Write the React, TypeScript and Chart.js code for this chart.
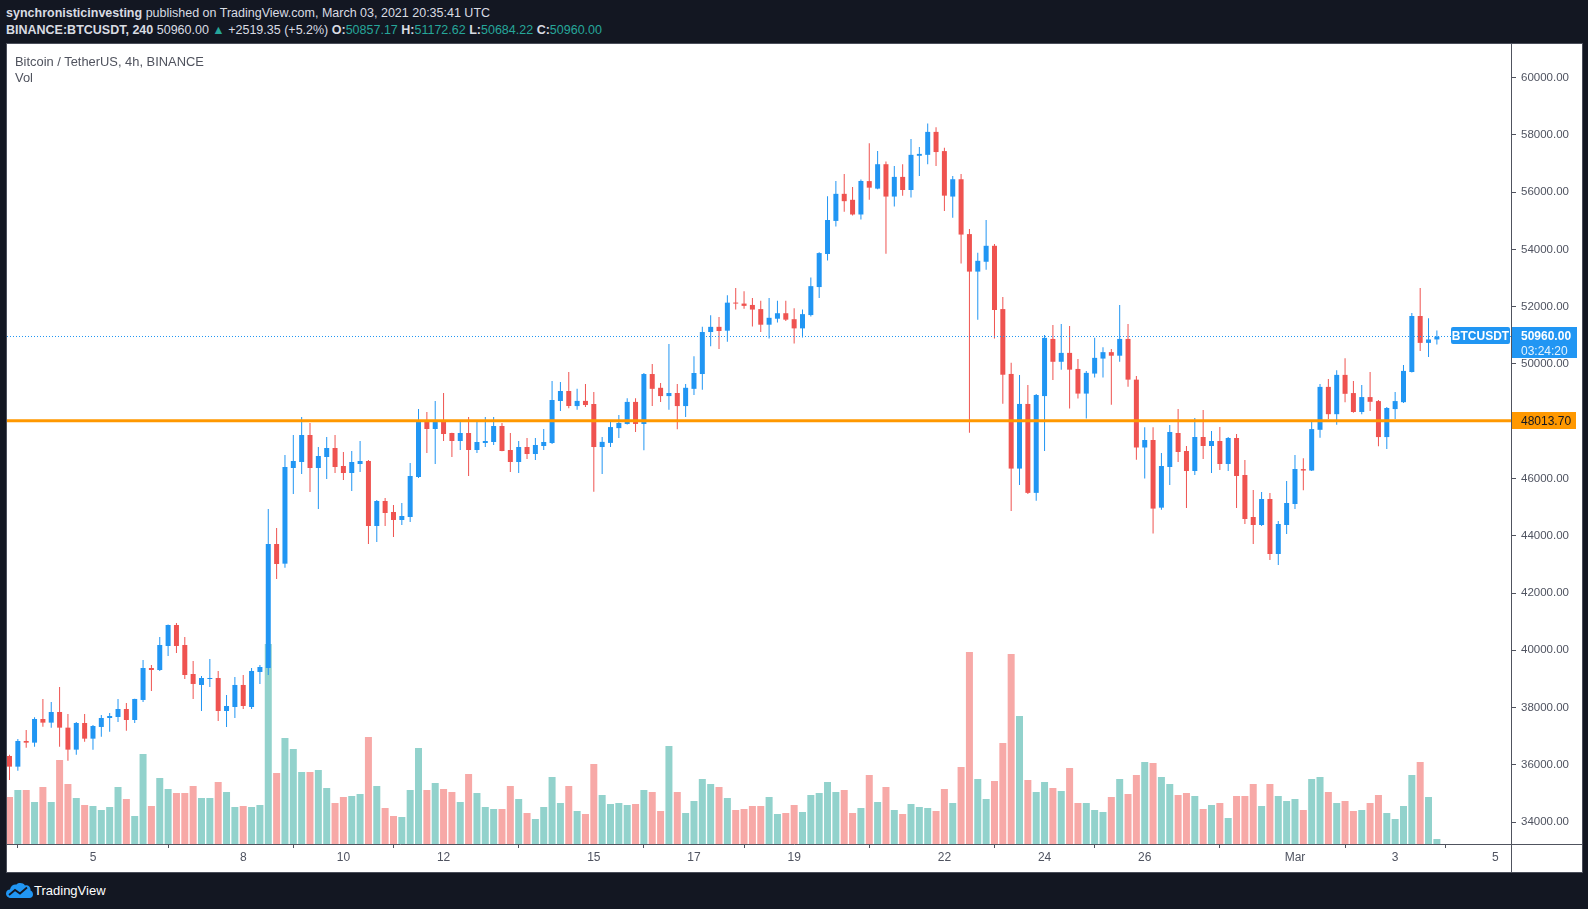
import React, { useEffect, useRef } from "react";
import { Chart, registerables } from "chart.js";

Chart.register(...registerables);

// ---- Data: BTCUSDT 4h candles, Feb 3 08:00 UTC -> Mar 3 20:00 UTC ----
const opens = [
  36308, 35935, 36832, 36773, 37600, 37472, 37844, 37297, 36529, 37460,
  36913, 37321, 37635, 37670, 37949, 37565, 38264, 39381, 39311, 40150,
  40883, 40185, 39172, 38788, 38997, 39032, 37879, 38019, 38788, 38019,
  39242, 39381, 43713, 43025, 46367, 46576, 47519, 46367, 46751, 47065,
  46437, 46192, 46506, 46611, 44341, 45214, 44830, 44551, 44655, 46052,
  47974, 47729, 48008, 47589, 47310, 47589, 46995, 47240, 47275, 47834,
  46995, 46576, 47100, 46856, 47135, 47240, 48707, 49056, 48530, 48711,
  48602, 47099, 47243, 47760, 47905, 48675, 47905, 49649, 49168, 48879,
  48987, 48530, 49132, 49649, 51116, 51297, 51163, 52142, 52110, 52062,
  51917, 51372, 51581, 51773, 51564, 51244, 51709, 52687, 53842, 54997,
  55943, 55735, 55222, 56388, 56126, 56978, 55848, 56535, 56077, 57272,
  57305, 58107, 57436, 55848, 56453, 54537, 53227, 53571, 54128, 51918,
  49652, 46346, 48604, 45498, 48879, 50875, 50077, 50388, 49827, 48966,
  49665, 50189, 50413, 50289, 50875, 49453, 47083, 47344, 44981, 46402,
  47589, 46961, 46262, 47450, 47135, 47310, 46507, 47415, 46123, 44656,
  44376, 45284, 43363, 44376, 45109, 46329, 46278, 47701, 49200, 48247,
  49619, 48984, 48323, 48844, 48704, 47447, 48425, 48666, 49720, 51676,
  50737, 50857.17,
];
const highs = [
  36350, 36901, 37216, 37658, 38299, 38194, 38718, 37775, 37495, 37775,
  37390, 37740, 37810, 38299, 38159, 38310, 39661, 39486, 40464, 40900,
  40953, 40464, 39626, 39102, 39696, 39277, 38438, 39067, 39137, 39381,
  39486, 44935, 44271, 46821, 47519, 48148, 47939, 47100, 47450, 47519,
  46926, 46961, 47310, 46650, 45249, 45319, 45075, 45144, 46541, 48428,
  48323, 48707, 48986, 47600, 48008, 48148, 47973, 48148, 48148, 47938,
  47589, 47310, 47415, 47415, 47729, 49405, 49371, 49720, 49132, 49300,
  49023, 47448, 48001, 48217, 48807, 48807, 49685, 49998, 49336, 50695,
  49300, 49300, 50274, 51297, 51706, 51645, 52399, 52655, 52543, 52302,
  52206, 52302, 52206, 52206, 51949, 51901, 53024, 53906, 55863, 56393,
  56633, 56184, 56441, 57714, 57436, 57076, 56912, 56978, 57862, 57583,
  58402, 58271, 57551, 56568, 56634, 54718, 53882, 55029, 54193, 52343,
  50039, 49615, 49266, 48953, 51012, 51361, 51398, 51324, 50176, 49752,
  50912, 50588, 50526, 52060, 51398, 49578, 47794, 47794, 46891, 47869,
  48428, 47135, 48113, 48393, 47659, 47799, 47450, 47555, 46646, 45599,
  45529, 45494, 44516, 45913, 46821, 46710, 47980, 49301, 49479, 49784,
  50203, 49403, 49263, 49720, 48742, 48501, 49022, 49962, 51778, 52655,
  51600, 51172.62,
];
const lows = [
  35469, 35795, 36599, 36634, 37332, 37297, 36634, 36145, 36354, 36808,
  36529, 36983, 37158, 37495, 37192, 37460, 38194, 38578, 39277, 39801,
  39905, 38997, 38299, 37879, 38718, 37530, 37320, 37635, 37949, 37949,
  38823, 39137, 42490, 42886, 45459, 46157, 45529, 44935, 45983, 46192,
  45948, 45563, 46227, 43712, 43782, 44341, 43957, 44376, 44481, 46017,
  46891, 46506, 47310, 46751, 46995, 46087, 46891, 47100, 47170, 46950,
  46227, 46192, 46681, 46646, 46995, 47205, 48358, 48450, 48398, 48494,
  45535, 46161, 47099, 47412, 47890, 47628, 46991, 48530, 48675, 48398,
  47724, 48145, 48915, 49096, 50623, 50527, 50779, 51901, 51933, 51308,
  51115, 50891, 51452, 51500, 50714, 50923, 51661, 52302, 53618, 54805,
  55318, 55190, 55045, 55733, 56100, 53850, 55504, 55880, 55815, 56568,
  56978, 56912, 55340, 55111, 53506, 47594, 51541, 53293, 50886, 48609,
  44862, 45773, 45460, 45224, 46958, 49440, 49802, 48442, 48792, 48093,
  49528, 49528, 48580, 50077, 49203, 46658, 45997, 44076, 44912, 45773,
  46577, 44970, 46123, 46681, 46192, 46297, 46262, 44970, 44411, 43712,
  44341, 43153, 42979, 44062, 44935, 45592, 46260, 47421, 48082, 47879,
  48666, 48298, 48247, 48361, 47129, 47028, 48082, 48641, 49700, 50457,
  50241, 50684.22,
];
const closes = [
  35935, 36832, 36773, 37600, 37472, 37844, 37297, 36529, 37460, 36913,
  37355, 37635, 37705, 37949, 37565, 38299, 39381, 39311, 40185, 40883,
  40150, 39137, 38823, 39032, 39032, 37879, 38054, 38788, 38054, 39277,
  39416, 43713, 43014, 46402, 46611, 47519, 46367, 46786, 47065, 46402,
  46192, 46576, 46611, 44341, 45214, 44795, 44551, 44690, 46087, 47974,
  47729, 48008, 47554, 47310, 47589, 46995, 47275, 47310, 47834, 46960,
  46576, 47100, 46856, 47170, 47275, 48742, 49056, 48532, 48711, 48566,
  47099, 47279, 47796, 47941, 48675, 47905, 49649, 49132, 48879, 48987,
  48530, 49168, 49685, 51116, 51297, 51152, 52142, 52110, 52030, 51901,
  51372, 51613, 51773, 51548, 51244, 51741, 52719, 53874, 55029, 55943,
  55687, 55222, 56393, 56159, 56978, 55848, 56535, 56077, 57305, 57338,
  58107, 57403, 55880, 56453, 54521, 53227, 53604, 54128, 51885, 49625,
  46346, 48604, 45498, 48916, 50912, 50077, 50388, 49802, 48966, 49690,
  50214, 50413, 50289, 50875, 49453, 47083, 47344, 44949, 46437, 47624,
  46926, 46262, 47450, 47135, 47310, 46507, 47415, 46088, 44586, 44376,
  45284, 43363, 44411, 45144, 46332, 46278, 47726, 49200, 48247, 49619,
  48958, 48323, 48844, 48679, 47447, 48463, 48704, 49758, 51676, 50737,
  50857, 50960,
];
const volumes = [
  14100, 16200, 16200, 12600, 17100, 12600, 25200, 18000, 13800, 11700,
  11400, 10200, 11100, 17100, 13500, 8400, 27000, 11400, 19800, 16500,
  15300, 15300, 17400, 13800, 13800, 18600, 15600, 11100, 11400, 11100,
  11700, 60000, 21300, 31800, 28500, 21600, 21600, 22200, 16800, 12300,
  14100, 14400, 15000, 32100, 17400, 10800, 8400, 8100, 16200, 28800,
  16200, 18300, 16500, 15600, 12600, 21000, 15300, 11100, 10500, 10500,
  17400, 13500, 9300, 7500, 11100, 20100, 12300, 17400, 9900, 9000,
  24000, 14700, 12000, 12300, 11700, 12000, 16200, 15600, 9900, 29400,
  15600, 9300, 12900, 19500, 18000, 17100, 13800, 10200, 10500, 11400,
  11400, 14100, 9000, 9300, 11700, 9600, 14700, 15300, 18600, 15600,
  16200, 9300, 10800, 20700, 12600, 17100, 10200, 9000, 12000, 11100,
  10800, 9900, 16500, 12300, 23100, 57600, 19500, 13500, 18900, 30300,
  57000, 38400, 19200, 15600, 18600, 16800, 15900, 22800, 12300, 12300,
  10200, 9600, 14100, 19500, 15000, 20700, 24600, 24300, 20100, 18000,
  14700, 15300, 14400, 10500, 11700, 12300, 7800, 14400, 14400, 18000,
  11400, 18000, 14400, 12900, 13500, 10200, 19500, 20100, 15600, 12300,
  12900, 9900, 10200, 12300, 14700, 9300, 7500, 11400, 20700, 24600,
  14100, 1500,
];

// x-axis day ticks (candle index of the day's first 4h bar) and their labels
const tickIndex = [10, 28, 40, 52, 70, 82, 94, 112, 124, 136, 154, 166, 178];
const tickLabels = ["5", "8", "10", "12", "15", "17", "19", "22", "24", "26", "Mar", "3", "5"];
const priceTicks = [34000, 36000, 38000, 40000, 42000, 44000, 46000, 48000, 50000, 52000, 54000, 56000, 58000, 60000];
const supportLevel = 48013.7;
const lastPrice = 50960;

// ---- Styles ----
const UP = "#2196f3";
const DOWN = "#ef5350";
const VOL_UP = "rgba(38,166,154,0.5)";
const VOL_DOWN = "rgba(239,83,80,0.5)";
const AXIS = "#50535e";
const TEXT = "#4f5360";
const FONT = '"Liberation Sans", Arial, sans-serif';

const X_MIN = -0.3;
const X_MAX = 179.88;
const Y_MIN = 33233;
const Y_MAX = 61177;
const VOL_MAX = 240000;

const overlay = {
  id: "overlay",
  afterDatasetsDraw(chart: any) {
    const { ctx, chartArea: a, scales } = chart;
    const ys = scales.y;
    ctx.save();
    ctx.beginPath();
    ctx.rect(a.left, a.top, a.right - a.left, a.bottom - a.top);
    ctx.clip();
    const yp = Math.round(ys.getPixelForValue(lastPrice)) + 0.5;
    ctx.setLineDash([1, 2]);
    ctx.strokeStyle = UP;
    ctx.lineWidth = 1;
    ctx.beginPath();
    ctx.moveTo(a.left, yp);
    ctx.lineTo(a.right, yp);
    ctx.stroke();
    ctx.setLineDash([]);
    const yo = ys.getPixelForValue(supportLevel);
    ctx.strokeStyle = "#ff9800";
    ctx.lineWidth = 3;
    ctx.beginPath();
    ctx.moveTo(a.left, yo);
    ctx.lineTo(a.right, yo);
    ctx.stroke();
    ctx.restore();
  },
  afterDraw(chart: any) {
    const { ctx, chartArea: a, scales, width, height } = chart;
    const ys = scales.y;
    ctx.save();
    ctx.strokeStyle = AXIS;
    ctx.lineWidth = 1;
    ctx.beginPath();
    const xr = Math.round(a.right) + 0.5;
    const yb = Math.round(a.bottom) + 0.5;
    ctx.moveTo(xr, 0);
    ctx.lineTo(xr, height);
    ctx.moveTo(0, yb);
    ctx.lineTo(width, yb);
    ctx.stroke();

    // support label
    const yo = ys.getPixelForValue(supportLevel);
    ctx.fillStyle = "#ff9800";
    ctx.fillRect(xr + 0.5, Math.round(yo - 8.5), 64, 17);
    ctx.fillStyle = "#131722";
    ctx.font = `12px ${FONT}`;
    ctx.textBaseline = "middle";
    ctx.textAlign = "left";
    ctx.fillText(supportLevel.toFixed(2), a.right + 10, yo + 0.5);

    // last price label
    const yp = ys.getPixelForValue(lastPrice);
    ctx.fillStyle = UP;
    ctx.fillRect(xr + 0.5, Math.round(yp - 9), 65, 31);
    ctx.beginPath();
    if ((ctx as any).roundRect) {
      (ctx as any).roundRect(a.right - 60, Math.round(yp - 9), 59, 17, 2);
    } else {
      ctx.rect(a.right - 60, Math.round(yp - 9), 59, 17);
    }
    ctx.fill();
    ctx.fillStyle = "#ffffff";
    ctx.font = `bold 12px ${FONT}`;
    ctx.fillText(lastPrice.toFixed(2), a.right + 10, yp);
    ctx.font = `12px ${FONT}`;
    ctx.fillStyle = "rgba(255,255,255,0.88)";
    ctx.fillText("03:24:20", a.right + 10, yp + 15);
    ctx.font = `bold 12px ${FONT}`;
    ctx.fillStyle = "#ffffff";
    ctx.textAlign = "center";
    ctx.fillText("BTCUSDT", a.right - 30.5, yp);
    ctx.restore();
  },
};

export default function App() {
  const canvasRef = useRef<HTMLCanvasElement | null>(null);

  useEffect(() => {
    const canvas = canvasRef.current;
    if (!canvas) return;
    Chart.defaults.font.family = FONT;
    const up = closes.map((c, i) => c >= opens[i]);
    const chart = new Chart(canvas, {
      type: "bar",
      data: {
        datasets: [
          {
            label: "Body",
            data: opens.map((o, i) => ({ x: i, y: [o, closes[i]] })) as any,
            backgroundColor: up.map((u) => (u ? UP : DOWN)),
            barThickness: 5,
            minBarLength: 1,
            grouped: false,
            inflateAmount: 0,
            order: 0,
            yAxisID: "y",
          } as any,
          {
            label: "Wick",
            data: lows.map((l, i) => ({ x: i, y: [l, highs[i]] })) as any,
            backgroundColor: up.map((u) => (u ? UP : DOWN)),
            barThickness: 1,
            grouped: false,
            inflateAmount: 0,
            order: 1,
            yAxisID: "y",
          } as any,
          {
            label: "Vol",
            data: volumes.map((v, i) => ({ x: i, y: v })) as any,
            backgroundColor: up.map((u) => (u ? VOL_UP : VOL_DOWN)),
            barThickness: 7,
            grouped: false,
            inflateAmount: 0,
            order: 2,
            yAxisID: "yv",
          } as any,
        ],
      },
      options: {
        responsive: false,
        animation: false,
        layout: { padding: 0 },
        plugins: { legend: { display: false }, tooltip: { enabled: false } },
        scales: {
          x: {
            type: "linear",
            min: X_MIN,
            max: X_MAX,
            offset: false,
            grid: { display: true, drawOnChartArea: false, drawTicks: true, tickLength: 4, color: AXIS },
            border: { display: false },
            ticks: {
              autoSkip: false,
              maxRotation: 0,
              color: TEXT,
              font: { size: 12 },
              padding: 2,
              callback: (v: any) => {
                const k = tickIndex.indexOf(Number(v));
                return k >= 0 ? tickLabels[k] : "";
              },
            },
            afterBuildTicks: (s: any) => {
              s.ticks = tickIndex.map((v) => ({ value: v }));
            },
            afterFit: (s: any) => {
              s.height = 28;
              s.paddingLeft = 0;
              s.paddingRight = 0;
              s.paddingTop = 0;
              s.paddingBottom = 0;
            },
          },
          y: {
            type: "linear",
            position: "right",
            min: Y_MIN,
            max: Y_MAX,
            grid: { display: true, drawOnChartArea: false, drawTicks: true, tickLength: 5, color: AXIS },
            border: { display: false },
            ticks: {
              color: TEXT,
              font: { size: 11.5 },
              padding: 5,
              callback: (v: any) => Number(v).toFixed(2),
            },
            afterBuildTicks: (s: any) => {
              s.ticks = priceTicks.map((v) => ({ value: v }));
            },
            afterFit: (s: any) => {
              s.width = 71;
              s.paddingTop = 0;
              s.paddingBottom = 0;
              s.paddingLeft = 0;
              s.paddingRight = 0;
            },
          },
          yv: {
            type: "linear",
            display: false,
            min: 0,
            max: VOL_MAX,
          },
        },
      } as any,
      plugins: [overlay as any],
    });
    return () => chart.destroy();
  }, []);

  const n = closes.length;
  const white = "#d9dce3";
  const teal = "#26a69a";

  return (
    <div
      style={{
        position: "fixed",
        left: 0,
        top: 0,
        width: 1588,
        height: 909,
        background: "#131722",
        overflow: "hidden",
        fontFamily: FONT,
      }}
    >
      <div style={{ position: "absolute", left: 6, top: 6, fontSize: 12.5, lineHeight: "14px", color: white, whiteSpace: "nowrap" }}>
        <b>synchronisticinvesting</b> published on TradingView.com, March 03, 2021 20:35:41 UTC
      </div>
      <div style={{ position: "absolute", left: 6, top: 22.5, fontSize: 12.5, lineHeight: "14px", color: white, whiteSpace: "nowrap" }}>
        <b>BINANCE:BTCUSDT, 240</b> {closes[n - 1].toFixed(2)}{" "}
        <span style={{ color: teal }}>▲</span> +2519.35 (+5.2%) <b>O:</b>
        <span style={{ color: teal }}>{opens[n - 1].toFixed(2)}</span> <b>H:</b>
        <span style={{ color: teal }}>{highs[n - 1].toFixed(2)}</span> <b>L:</b>
        <span style={{ color: teal }}>{lows[n - 1].toFixed(2)}</span> <b>C:</b>
        <span style={{ color: teal }}>{closes[n - 1].toFixed(2)}</span>
      </div>
      <div
        style={{
          position: "absolute",
          left: 6,
          top: 43,
          width: 1577,
          height: 830,
          boxSizing: "border-box",
          border: "1px solid #4a4e5a",
          background: "#ffffff",
        }}
      >
        <canvas ref={canvasRef} width={1575} height={828} style={{ display: "block", width: 1575, height: 828 }} />
      </div>
      <div style={{ position: "absolute", left: 15, top: 54.5, fontSize: 12.9, lineHeight: "14px", color: "#50535e", whiteSpace: "nowrap" }}>
        Bitcoin / TetherUS, 4h, BINANCE
      </div>
      <div style={{ position: "absolute", left: 15, top: 70.5, fontSize: 12.9, lineHeight: "14px", color: "#50535e" }}>Vol</div>
      <svg style={{ position: "absolute", left: 6, top: 883 }} width={27} height={15} viewBox="0 0 27 15">
        <path
          d="M5 15 C1.5 15 0 12.5 0 10.5 C0 8 2 6.5 4 6.5 C4.5 3 7.5 1 10.5 1.5 C12.5 -0.5 17 -0.5 19 2.5 C22 1.5 25 4 24.5 7.5 C26.5 8.5 27 10 27 11.5 C27 13.5 25.5 15 23.5 15 Z"
          fill="#2196f3"
        />
        <polyline points="3,12 9,7 14,10.5 21,4.5" fill="none" stroke="#131722" strokeWidth={1.8} />
      </svg>
      <div style={{ position: "absolute", left: 34, top: 883, fontSize: 13, lineHeight: "15px", color: "#ffffff" }}>TradingView</div>
    </div>
  );
}
